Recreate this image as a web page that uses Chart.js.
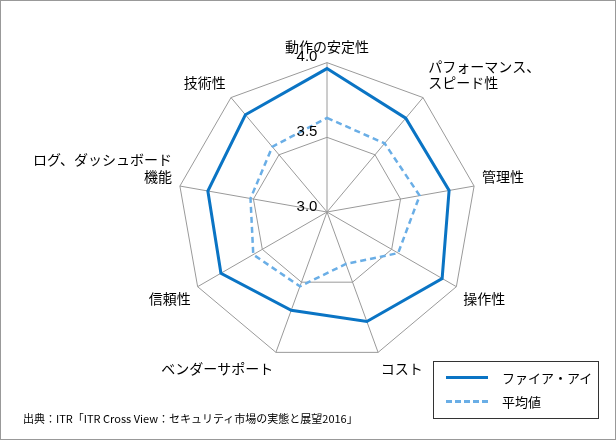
<!DOCTYPE html>
<html>
<head>
<meta charset="utf-8">
<script src="https://cdn.jsdelivr.net/npm/chart.js@4"></script>
<style>
  body { margin: 0; background: #fff; font-family: "Noto Sans CJK JP", sans-serif; }
  #wrap { position: relative; width: 616px; height: 440px; box-sizing: border-box; border: 1px solid #999; }
  #legend { position: absolute; left: 432px; top: 360px; width: 166px; height: 58px; border: 1px solid #333; box-sizing: border-box; font-size: 13px; }
  .row { position: absolute; left: 12px; display: flex; align-items: center; }
  .sw { width: 42px; margin-right: 14px; }
  #source { position: absolute; left: 22px; top: 409px; font-size: 11px; }
</style>
</head>
<body>
<div id="wrap">
  <canvas id="radar" width="614" height="438"></canvas>
  <div id="legend">
    <div class="row" style="top:6px"><div class="sw" style="border-top:3px solid #0a74c4"></div>ファイア・アイ</div>
    <div class="row" style="top:30px"><div class="sw" style="border-top:3px dashed #6aaee6"></div>平均値</div>
  </div>
  <div id="source">出典：ITR「ITR Cross View：セキュリティ市場の実態と展望2016」</div>
</div>
<script>
// Categories (axes, clockwise from top)
const categories = [
  '動作の安定性',
  ['パフォーマンス、', 'スピード性'],
  '管理性',
  '操作性',
  'コスト',
  'ベンダーサポート',
  '信頼性',
  ['ログ、ダッシュボード', '機能'],
  '技術性'
];

// Series values
const fireEye = [3.96, 3.82, 3.83, 3.89, 3.78, 3.70, 3.82, 3.81, 3.85];
const average = [3.63, 3.60, 3.63, 3.55, 3.37, 3.53, 3.57, 3.52, 3.57];

// Tick labels
const tickValues = [3.0, 3.5, 4.0];

// Draw tick labels a little left of the vertical axis
const tickLabelPlugin = {
  id: 'tickLabels',
  afterDraw(chart) {
    const scale = chart.scales.r;
    const ctx = chart.ctx;
    ctx.save();
    ctx.font = '15px "Liberation Sans", Arial, sans-serif';
    ctx.fillStyle = '#000';
    ctx.textAlign = 'center';
    ctx.textBaseline = 'bottom';
    tickValues.forEach(v => {
      const d = scale.getDistanceFromCenterForValue(v);
      ctx.fillText(v.toFixed(1), scale.xCenter - 20, scale.yCenter - d + 2);
    });
    ctx.restore();
  }
};

new Chart(document.getElementById('radar'), {
  type: 'radar',
  data: {
    labels: categories,
    datasets: [
      {
        label: 'ファイア・アイ',
        data: fireEye,
        borderColor: '#0a74c4',
        borderWidth: 3,
        fill: false,
        pointRadius: 0
      },
      {
        label: '平均値',
        data: average,
        borderColor: '#6aaee6',
        borderWidth: 2.5,
        borderDash: [6, 4],
        fill: false,
        pointRadius: 0
      }
    ]
  },
  options: {
    responsive: false,
    animation: false,
    layout: { padding: { top: 8, bottom: 34, left: 8, right: 18 } },
    plugins: { legend: { display: false }, tooltip: { enabled: false } },
    scales: {
      r: {
        min: 3.0,
        max: 4.0,
        ticks: { stepSize: 0.5, display: false },
        grid: { color: '#9a9a9a', lineWidth: 1 },
        angleLines: { color: '#9a9a9a', lineWidth: 1 },
        pointLabels: {
          color: '#000',
          padding: 8,
          font: { size: 14, family: '"Noto Sans CJK JP", sans-serif' }
        }
      }
    }
  },
  plugins: [tickLabelPlugin]
});
</script>
</body>
</html>
